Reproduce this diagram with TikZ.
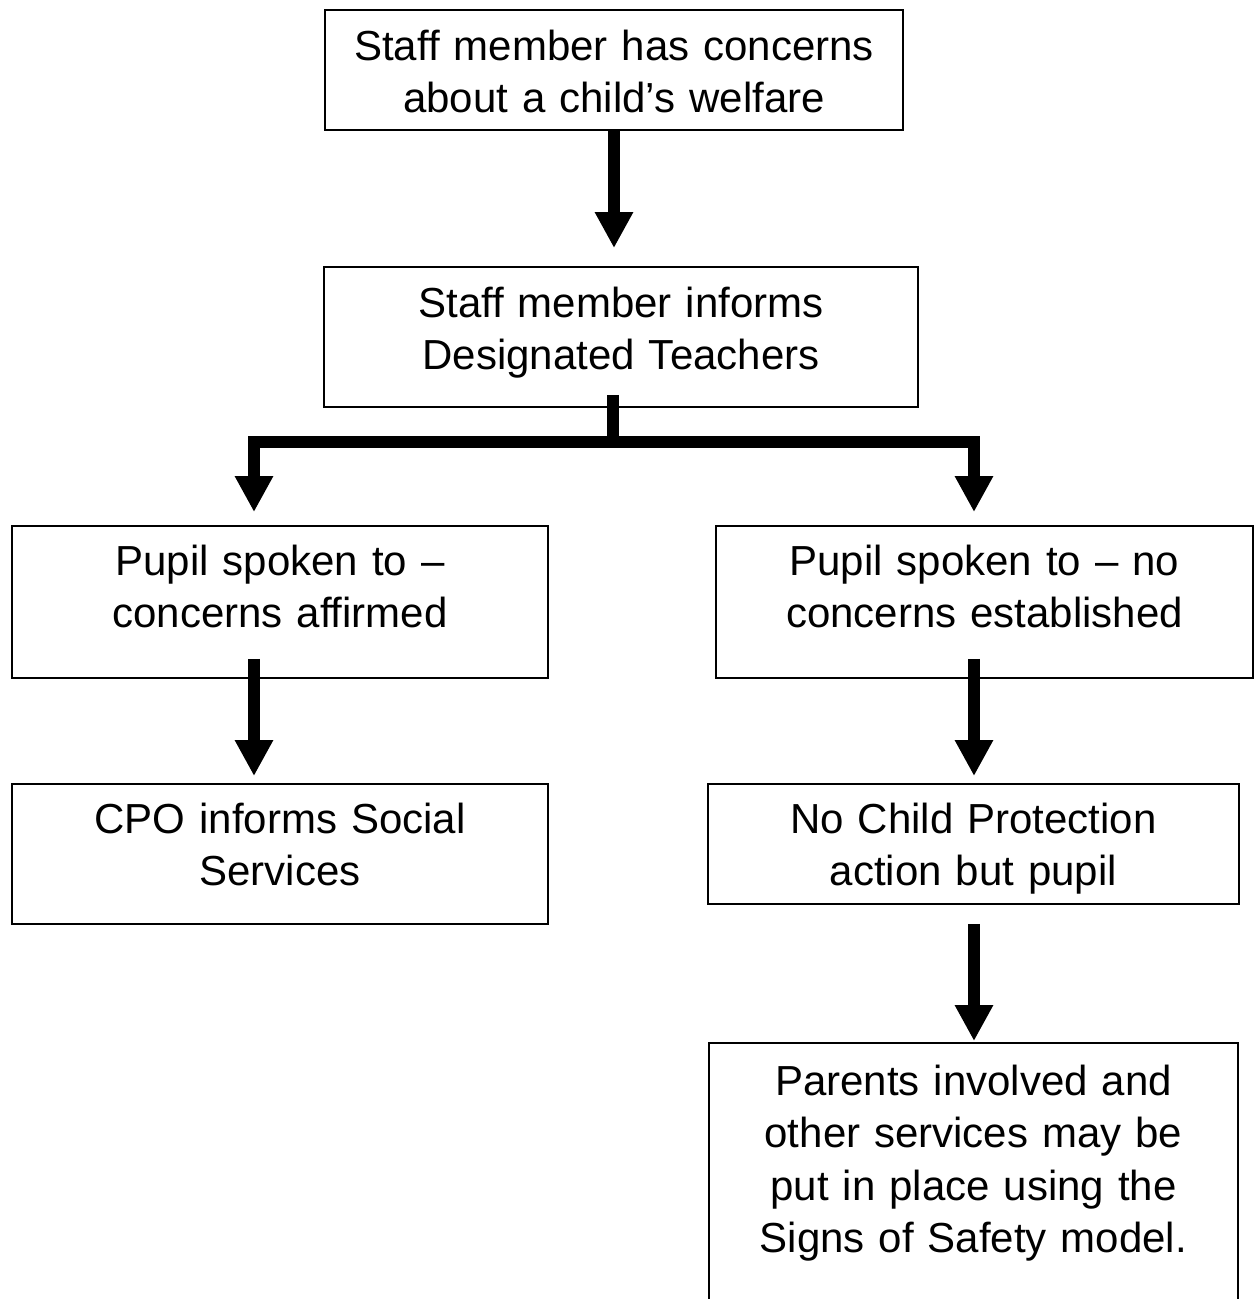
\documentclass[tikz,border=0pt]{standalone}
\usepackage{fontspec}
\setmainfont{Liberation Sans}
\usetikzlibrary{arrows.meta}

\tikzset{
  box/.style={draw, line width=1.1pt, inner sep=0pt, align=center, anchor=base,
    font=\fontsize{23.9}{29.9}\selectfont},
  flow/.style={line width=7pt, -{Triangle[length=0.72cm,width=0.72cm]}}
}

\begin{document}
\begin{tikzpicture}[x=0.02cm, y=-0.02cm]
\useasboundingbox (0,0) rectangle (1257,1299);
\clip (0,0) rectangle (1257,1299);

% boxes
\node[box, text width=11.56cm, text height=1cm, text depth=1.4cm] (concern) at (614,60)
	{Staff member has concerns\\about a child’s welfare};
\node[box, text width=11.88cm, text height=1cm, text depth=1.8cm] (inform) at (621,317)
	{Staff member informs\\Designated Teachers};
\node[box, text width=10.72cm, text height=0.98cm, text depth=2.06cm] (affirmed) at (280,575)
	{Pupil spoken to –\\concerns affirmed};
\node[box, text width=10.74cm, text height=0.98cm, text depth=2.06cm] (noconcern) at (984.5,575)
	{Pupil spoken to – no\\concerns established};
\node[box, text width=10.72cm, text height=0.98cm, text depth=1.82cm] (social) at (280,833)
	{CPO informs Social\\Services};
\node[box, text width=10.62cm, text height=0.98cm, text depth=1.42cm] (noaction) at (973.5,833)
	{No Child Protection\\action but pupil};
\node[box, text width=10.58cm, text height=1.04cm, text depth=5cm] (parents) at (973.5,1095)
	{Parents involved and\\other services may be\\put in place using the\\Signs of Safety model.};

% branch points
\coordinate (split) at (613,442);
\coordinate (lcol) at (254,0);
\coordinate (rcol) at (974,0);

% arrows
\draw[flow, shorten >=0.36cm] (concern.south) -- (concern.south |- inform.north);
\draw[flow, shorten <=-0.26cm, shorten >=0.26cm] (inform.south -| split) -- (split) -| (affirmed.north -| lcol);
\draw[flow, shorten >=0.26cm] (split) -| (noconcern.north -| rcol);
\draw[flow, shorten <=-0.4cm, shorten >=0.14cm] (affirmed.south -| lcol) -- (social.north -| lcol);
\draw[flow, shorten <=-0.4cm, shorten >=0.14cm] (noconcern.south -| rcol) -- (noaction.north -| rcol);
\draw[flow, shorten <=0.38cm, shorten >=0.02cm] (noaction.south -| rcol) -- (parents.north -| rcol);

\end{tikzpicture}
\end{document}
